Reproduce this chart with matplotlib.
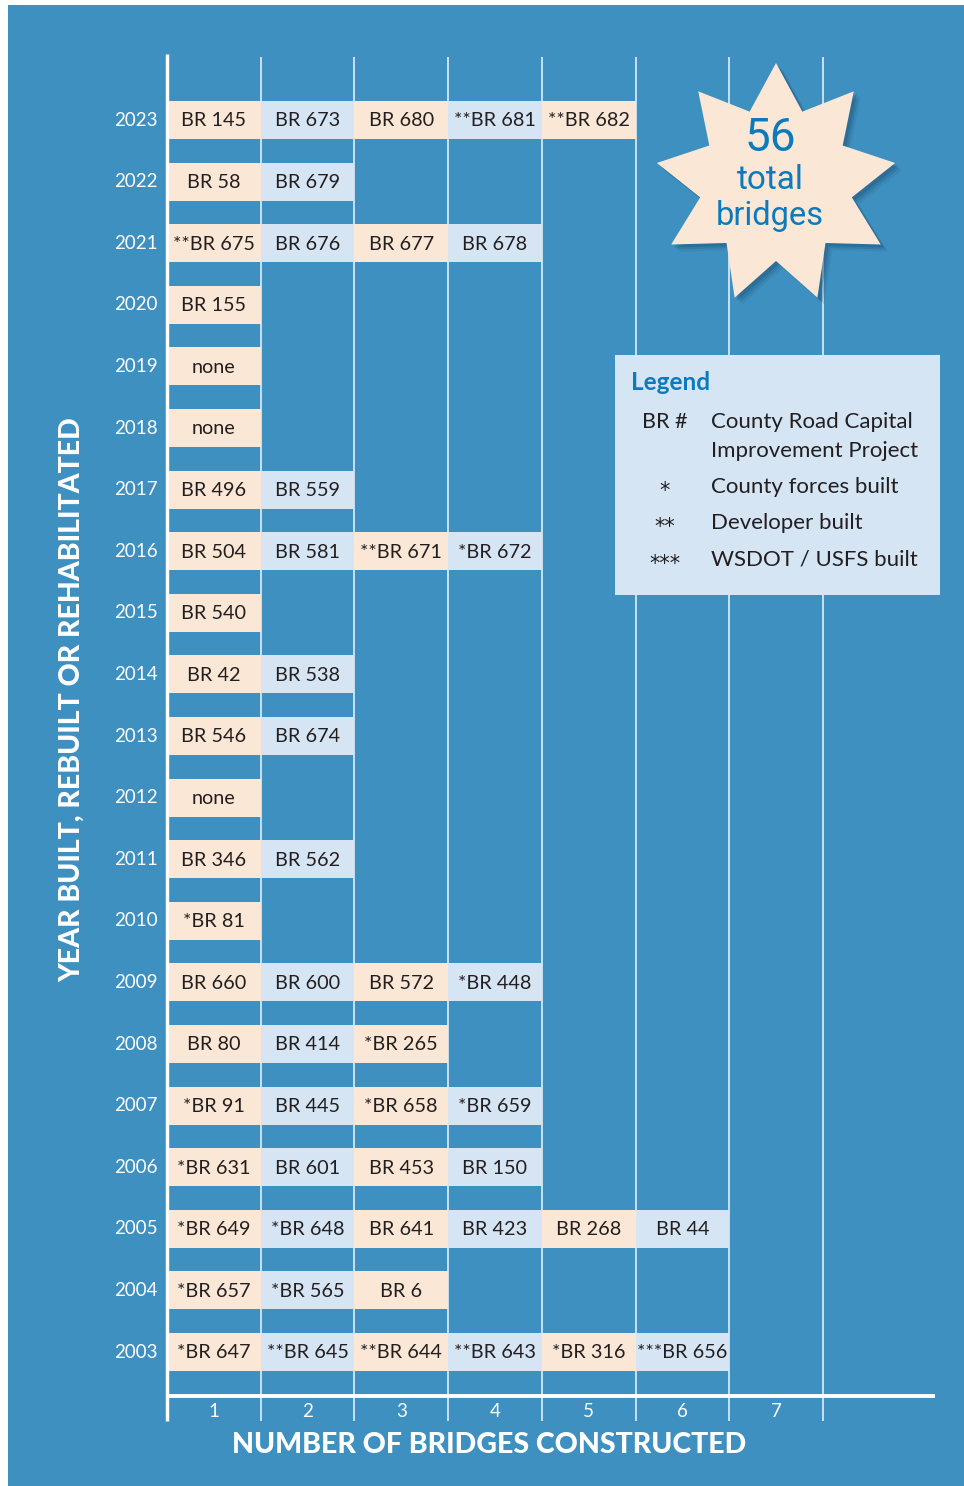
import numpy as np
import matplotlib.pyplot as plt
from matplotlib.patches import Rectangle, Polygon

plt.rcParams['font.family'] = ['Lato', 'DejaVu Sans']

# --- data ---
years = list(range(2023, 2002, -1))
bridges = [
    ["BR 145", "BR 673", "BR 680", "**BR 681", "**BR 682"],      # 2023
    ["BR 58", "BR 679"],                                         # 2022
    ["**BR 675", "BR 676", "BR 677", "BR 678"],                  # 2021
    ["BR 155"],                                                  # 2020
    ["none"],                                                    # 2019
    ["none"],                                                    # 2018
    ["BR 496", "BR 559"],                                        # 2017
    ["BR 504", "BR 581", "**BR 671", "*BR 672"],                 # 2016
    ["BR 540"],                                                  # 2015
    ["BR 42", "BR 538"],                                         # 2014
    ["BR 546", "BR 674"],                                        # 2013
    ["none"],                                                    # 2012
    ["BR 346", "BR 562"],                                        # 2011
    ["*BR 81"],                                                  # 2010
    ["BR 660", "BR 600", "BR 572", "*BR 448"],                   # 2009
    ["BR 80", "BR 414", "*BR 265"],                              # 2008
    ["*BR 91", "BR 445", "*BR 658", "*BR 659"],                  # 2007
    ["*BR 631", "BR 601", "BR 453", "BR 150"],                   # 2006
    ["*BR 649", "*BR 648", "BR 641", "BR 423", "BR 268", "BR 44"],  # 2005
    ["*BR 657", "*BR 565", "BR 6"],                              # 2004
    ["*BR 647", "**BR 645", "**BR 644", "**BR 643", "*BR 316", "***BR 656"],  # 2003
]
count_ticks = [1, 2, 3, 4, 5, 6, 7]
legend_symbols = ["BR #", "*", "**", "***"]
legend_texts = [["County Road Capital", "Improvement Project"], ["County forces built"],
                ["Developer built"], ["WSDOT / USFS built"]]
total = sum(len([b for b in row if b != "none"]) for row in bridges)

BLUE = "#3e90c0"
PEACH = "#fae7d5"
LIGHT = "#d5e5f4"
INK = "#231f20"
TITLE_BLUE = "#0b7bbd"

W, H = 964, 1486
fig = plt.figure(figsize=(W / 100, H / 100), dpi=100, facecolor="white")

# background panel (pixel coords)
bg = fig.add_axes([0, 0, 1, 1], zorder=-1)
bg.set_xlim(0, W)
bg.set_ylim(H, 0)
bg.axis("off")
bg.add_patch(Rectangle((8, 5), W - 8, H - 5, color=BLUE, lw=0))

# main chart axes
y_bot = 2003 - 44 / 61.6
y_top = 2023 + 65 / 61.6
x_max = 768 / 93.7
ax = fig.add_axes([167 / W, (H - 1396) / H, 768 / W, 1341 / H], zorder=1)
ax.set_facecolor("none")
ax.set_xlim(0, x_max)
ax.set_ylim(y_bot, y_top)
for s in ax.spines.values():
    s.set_visible(False)
ax.set_xticks([])
ax.set_yticks([])

ext = 25 / 61.6
ax.vlines(count_ticks, y_bot - ext, y_top - 2 / 61.6, color="#d4e6f2", lw=1.3,
          zorder=1, clip_on=False)
ax.vlines(0, y_bot - ext, y_top + 1 / 61.6, color="white", lw=2.5, zorder=3,
          clip_on=False)
ax.hlines(y_bot, 0, x_max, color="white", lw=2.8, zorder=3, clip_on=False)

for year, row in zip(years, bridges):
    for i, name in enumerate(row):
        col = PEACH if i % 2 == 0 else LIGHT
        left = -0.03 if name == "none" else i
        ax.barh(year, 1 - (left - i), left=left, height=0.62, color=col, lw=0, zorder=2)
        ax.text(i + 0.5, year - 0.015, name, ha="center", va="center", fontsize=14.3,
                color=INK, zorder=4)
    ax.text(-0.095, year, str(year), ha="right", va="center", fontsize=13.5,
            color="white")

for t in count_ticks:
    ax.text(t - 0.5, y_bot - 0.25, str(t), ha="center", va="center", fontsize=13.5,
            color="white")

fig.text(489 / W, 1 - 1445 / H, "NUMBER OF BRIDGES CONSTRUCTED", ha="center",
         va="center", fontsize=20.5, fontweight=900, color="white")
fig.text(72 / W, 1 - 700 / H, "YEAR BUILT, REBUILT OR REHABILITATED", ha="center",
         va="center", rotation=90, fontsize=20.5, fontweight=900, color="white")

# overlay for star and legend (pixel coords)
ov = fig.add_axes([0, 0, 1, 1], zorder=5)
ov.set_facecolor("none")
ov.set_xlim(0, W)
ov.set_ylim(H, 0)
ov.axis("off")

cx, cy, r_out, r_in = 776, 184, 121, 77
ang = np.deg2rad(90 - np.arange(18) * 20)
rad = np.where(np.arange(18) % 2 == 0, r_out, r_in)
pts = np.column_stack([cx + rad * np.cos(ang), cy - rad * np.sin(ang)])
for k, a in [(7, 0.12), (5, 0.2), (3, 0.3)]:
    ov.add_patch(Polygon(pts + [k, k], closed=True, color="#1d4f73", alpha=a, lw=0))
ov.add_patch(Polygon(pts, closed=True, color=PEACH, lw=0))
ov.text(770, 138, str(total), ha="center", va="center", fontsize=33,
        family=["Roboto", "DejaVu Sans"], color=TITLE_BLUE)
ov.text(770, 180, "total", ha="center", va="center", fontsize=24,
        family=["Roboto", "DejaVu Sans"], color=TITLE_BLUE)
ov.text(770, 216, "bridges", ha="center", va="center", fontsize=23.5,
        family=["Roboto", "DejaVu Sans"], color=TITLE_BLUE)

ov.add_patch(Rectangle((615, 355), 325, 240, color=LIGHT, lw=0))
ov.text(631, 383, "Legend", ha="left", va="center", fontsize=17.5, fontweight="bold",
        color=TITLE_BLUE)
sym_y = [422, 487, 523, 560]
for sy, sym, lines in zip(sym_y, legend_symbols, legend_texts):
    if sym == "BR #":
        ov.text(665, sy, sym, ha="center", va="center", fontsize=15.5, color=INK)
    else:
        ov.text(665, sy + 4, sym, ha="center", va="center", fontsize=15,
                family=["DejaVu Sans"], color=INK)
    for j, line in enumerate(lines):
        ov.text(711, sy + j * 29, line, ha="left", va="center", fontsize=16, color=INK)

fig.savefig("out.png", dpi=100, facecolor="white")
